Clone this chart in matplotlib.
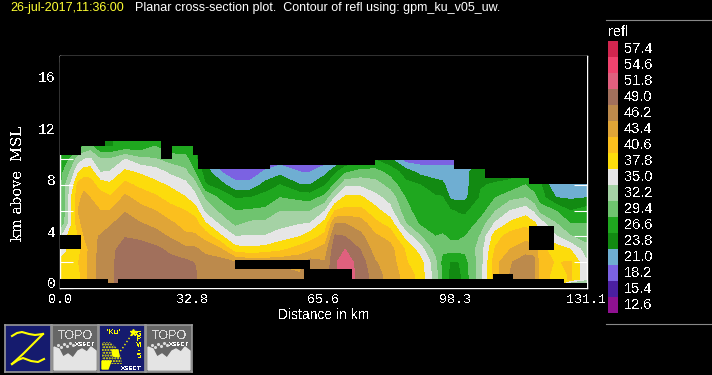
import matplotlib
matplotlib.use("Agg")
import matplotlib.pyplot as plt
import numpy as np
from matplotlib.colors import BoundaryNorm, ListedColormap
from matplotlib.patches import Rectangle, Polygon
from matplotlib.transforms import ScaledTranslation

plt.rcParams['font.family'] = ['Liberation Sans', 'DejaVu Sans']
plt.rcParams['text.antialiased'] = False

W, H = 712, 375

band_labels = [12.6, 15.4, 18.2, 21.0, 23.8, 26.6, 29.4, 32.2, 35.0, 37.8,
               40.6, 43.4, 46.2, 49.0, 51.8, 54.6, 57.4]
band_colors = ['#8f1191', '#4b1fa0', '#7b62e2', '#6faed2', '#128a12', '#1fa71f',
               '#6fc46f', '#a5d2a5', '#e6e6e6', '#fcdc0c', '#fbbf1e', '#e0a537',
               '#bc8a4c', '#a1705c', '#e0607e', '#f0436e', '#d1264f']

# distance (km) of each column of readings
dist_km = [0, 1.5, 3, 4.5, 6, 7.5, 10, 12.5, 16.2, 19.9, 23.7, 27.4, 31.2, 33.6,
           36.1, 39.9, 43.6, 47.4, 51.1, 54.8, 59.8, 62.3, 66, 68.5, 71, 74.8,
           78.5, 82.2, 86, 89.7, 93.5, 95.2, 97.2, 99, 100.9, 104.7, 108.4, 112.1,
           115.9, 118, 119.6, 123.4, 127.1, 131.1]
# heights (km) of the readings in each column
height_km = [1, 2, 3, 4, 5, 6, 7, 8, 9, 10, 11]
# reflectivity per column, bottom to top
refl = [
    [38, 37, 35, 33, 28, 27, 27, 27, 27, 26, 25],
    [38, 38, 36, 36, 32, 31, 31, 31, 29, 27, 25],
    [38, 38, 38, 38, 36.5, 36.5, 37, 35, 32, 29, 25],
    [38, 39, 38.5, 39, 41, 42, 41, 40, 36, 32, 27],
    [41, 41, 40, 42, 43, 44, 43, 41, 38, 33.5, 28],
    [43, 43, 43, 44, 43.5, 43, 42, 40.5, 38, 34, 29],
    [46, 46, 45.5, 45, 43, 42, 40.5, 38, 33.5, 31, 25],
    [47, 47, 47, 46, 44.5, 42, 39.6, 37, 33.8, 31, 25],
    [49, 49, 48.5, 47.5, 46, 44.6, 42.6, 40, 37, 33.6, 26],
    [49.5, 49.5, 49, 47, 45, 43, 41, 38.5, 36, 31.5, 26],
    [49.5, 49, 48.3, 46, 44, 42, 39.8, 37.2, 35, 31, 28],
    [49, 48.5, 47, 44.5, 42.5, 40.5, 38, 36, 33, 29.5, 26],
    [48.5, 48.2, 45.5, 42.5, 41, 39.2, 36.6, 34.5, 31.5, 29, 26],
    [48, 47.5, 45.3, 42.5, 40.5, 38, 34.5, 32, 28, 26, 25],
    [46, 46, 44, 41, 36.8, 33, 30.5, 25.5, 24, 22, 20],
    [46, 46, 42.5, 37, 33, 30, 27.5, 23.6, 19.7, 18, 17],
    [46, 45, 37.5, 33.6, 30, 28, 25.1, 20.4, 18, 17, 17],
    [46, 44, 37, 33.8, 31.4, 28.3, 25.2, 20.5, 18, 17, 17],
    [46, 44, 37.5, 33.8, 31.5, 28.5, 26.5, 23.4, 20, 17.5, 17],
    [46, 44, 38.5, 35, 32.5, 30.7, 28, 25.2, 21.5, 18, 17],
    [45, 44, 40.5, 36.4, 33.4, 30.5, 27.2, 22.4, 19.6, 18, 17],
    [46, 46, 41.3, 38, 33.7, 30.7, 26.8, 22.4, 19.6, 18, 17],
    [46, 45, 43.4, 40, 37.5, 33.5, 29, 25, 21.5, 18, 17],
    [50, 50, 49.5, 48, 44.7, 39.2, 34, 28.5, 24.5, 19, 17],
    [52, 52, 50.4, 47.6, 44.8, 40, 37, 33, 27.5, 22, 18],
    [49.5, 49, 47.5, 45.5, 43.5, 40, 37, 33, 29, 24, 20],
    [46, 45, 43.5, 42.5, 40, 37.5, 34.5, 32, 29, 25, 20],
    [43.5, 43.5, 43, 41, 38, 34.5, 32.5, 29.7, 27, 23, 20],
    [41, 39.5, 39, 35.5, 31, 29, 28, 26, 24, 18, 17],
    [38, 37.5, 35, 31, 27.5, 26.5, 25.5, 25.2, 21.5, 18, 17],
    [32, 31.5, 29.5, 28, 26, 26, 25.6, 23.5, 21, 18, 17],
    [27.5, 27, 28.5, 28.5, 26, 26, 25.5, 23, 21, 18, 17],
    [24.5, 25, 29, 27.5, 26, 25.5, 22, 21, 21, 18, 17],
    [24, 24.8, 29, 27.5, 26, 25, 21.5, 21, 21, 18, 17],
    [26.5, 27, 28.5, 28, 26, 24.8, 21.8, 21.5, 21.5, 19, 17],
    [32.5, 32, 32, 31, 29, 26.5, 25.5, 25, 25, 22, 20],
    [41, 41, 39.5, 38, 34, 30.6, 28, 25.5, 24, 22, 20],
    [44.9, 44.5, 42, 40.5, 37, 33.6, 30, 26, 24, 22, 20],
    [47, 46.5, 43.5, 41, 38.5, 35, 30.8, 28, 26, 24, 22],
    [45.5, 45.5, 44, 40, 37, 33, 29, 26.5, 25, 23, 21],
    [41, 40.5, 40, 37, 35, 29.5, 26.5, 25.5, 24, 22, 20],
    [38, 39, 38, 34, 31, 28, 22.5, 19.7, 18, 17, 17],
    [39.5, 39.5, 36.4, 31, 28, 25.2, 22, 20, 18, 17, 17],
    [34, 34, 32, 29.5, 28, 26.5, 22.4, 21, 18, 17, 17],
]
# readings just above ground, only seen where the floor dips
low_refl_last_columns = [29, 29]

# top of the echo: step edges (km) and the height (km) between them
top_edges_km = [0, 5.2, 11.2, 25.2, 27.9, 33.1, 34.4, 52.3, 78.5, 98, 105.9, 116.7, 131.1]
top_heights_km = [10.3, 11, 11.4, 10, 11, 10.3, 9.2, 9.55, 9.95, 9.2, 8.5, 8.1]
# lowest data: step edges (km) and height (km)
floor_edges_km = [0, 12, 14.5, 125.5, 131.1]
floor_heights_km = [0.7, 0.4, 0.7, 0.4]
# holes with no data: x0, x1, z0, z1 in km
gaps_km = [(0, 5.2, 3, 4.1), (43.6, 62.3, 1.5, 2.2), (60.8, 72.8, 0.7, 1.5),
           (107.9, 112.7, 0.7, 1.1), (116.7, 122.9, 2.95, 4.8)]

x_ticks = [0, 16.4, 32.8, 49.2, 65.6, 82.0, 98.3, 114.7, 131.1]
x_labels = ['0.0', '', '32.8', '', '65.6', '', '98.3', '', '131.1']
y_ticks = [0, 2, 4, 6, 8, 10, 12, 14, 16]
y_labels = ['0', '', '4', '', '8', '', '12', '', '16']


def px_axes(fig, x0, y0, x1, y1, **kw):
    return fig.add_axes([x0 / W, 1 - y1 / H, (x1 - x0) / W, (y1 - y0) / H], **kw)


def icon_frame(fig, x0, face):
    ax = px_axes(fig, x0, 325, x0 + 46, 372)
    ax.set_xlim(0, 46)
    ax.set_ylim(47, 0)
    ax.set_xticks([])
    ax.set_yticks([])
    ax.set_facecolor(face)
    for s in ax.spines.values():
        s.set_color('#999999')
        s.set_linewidth(1.2)
    return ax


def topo_icon(fig, x0):
    ax = icon_frame(fig, x0, '#666666')
    ax.text(23, 11, 'TOPO', color='#dddddd', fontsize=9, ha='center', va='center')
    ax.text(33, 19, 'XSECT', color='#ffffff', fontsize=4.5, ha='center', va='center')
    ridge = [(2, 45), (2, 22), (7, 24), (11, 32), (16, 29), (21, 33), (26, 26), (30, 24),
             (35, 27), (39, 22), (44, 26), (44, 45)]
    ax.add_patch(Polygon(ridge, color='#e4e4e4'))
    ax.scatter([6, 9, 12, 15, 18, 21], [20, 22, 19, 21, 18, 20], s=1.5, color='#dddddd')


def z_icon(fig, x0):
    ax = icon_frame(fig, x0, '#151b6e')
    ax.plot([7, 12, 17, 24, 30, 38], [11, 8, 7, 9, 10, 9], color='#ffff00', lw=1.5)
    ax.plot([38, 28, 18, 7], [9, 19, 29, 39], color='#ffff00', lw=1.5)
    ax.plot([7, 13, 18, 26, 33, 39], [39, 35, 33, 36, 37, 34], color='#ffff00', lw=1.5)


def ku_icon(fig, x0):
    ax = icon_frame(fig, x0, '#151b6e')
    ax.text(14, 8, "*Ku'", color='#ffff00', fontsize=6, ha='center', va='center')
    for i, c in enumerate('GPM-5'):
        ax.text(40, 9 + i * 5.6, c, color='#ffff00', fontsize=5.5, ha='center', va='center',
                fontweight='bold')
    ax.text(32, 43, 'XSECT', color='#ffffff', fontsize=4.5, ha='center', va='center',
            fontweight='bold')
    ax.add_patch(Polygon([(3, 17), (11, 17), (18, 23), (22, 32), (23, 39), (3, 39)],
                         facecolor='#151b6e', edgecolor='#ffff00', hatch='......', lw=0))
    ax.add_patch(Polygon([(13, 25), (19, 25), (20, 32), (14, 31)], color='#ffff00'))
    ax.add_patch(Polygon([(3, 36), (12, 36), (9, 44), (3, 44)], color='#ffff00'))
    ax.plot([19, 23, 27, 31, 34], [29, 24, 18, 12, 7], ':', color='#ffff00', lw=1)
    ax.plot([34], [7], marker='*', color='#ffff00', ms=5)


fig = plt.figure(figsize=(W / 100, H / 100), dpi=100, facecolor='black')
ax = px_axes(fig, 60, 56, 586.5, 288)
ax.set_facecolor('black')

# levels sit half a band either side of each colour bar label
levels = [v - 1.4 for v in band_labels] + [band_labels[-1] + 1.4]
cmap = ListedColormap(band_colors)
norm = BoundaryNorm(levels, cmap.N)

grid = np.array(refl).T
low = grid[0].copy()
low[-2:] = low_refl_last_columns
grid = np.vstack([low, grid[0], grid, grid[-1]])
heights = [0.3, 0.69] + height_km + [12]
ax.contourf(dist_km, heights, grid, levels=levels, cmap=cmap, norm=norm, antialiased=False)

top_y = np.r_[top_heights_km, top_heights_km[-1]]
ax.fill_between(top_edges_km, top_y, 18, step='post', color='black', lw=0, zorder=3)
floor_y = np.r_[floor_heights_km, floor_heights_km[-1]]
ax.fill_between(floor_edges_km, 0, floor_y, step='post', color='black', lw=0, zorder=3)
for x0, x1, z0, z1 in gaps_km:
    ax.add_patch(Rectangle((x0, z0), x1 - x0, z1 - z0, color='black', lw=0, zorder=3))

ax.set_xlim(0, 131.1)
ax.set_ylim(0, 18)
ax.set_xticks(x_ticks, x_labels, family='Liberation Mono', fontsize=9.5)
ax.set_yticks(y_ticks, y_labels, family='Liberation Mono', fontsize=10.5)
ax.tick_params(axis='x', direction='in', length=4.5, width=0.8, color='white', labelcolor='white',
               top=True, pad=4)
ax.tick_params(axis='y', direction='in', length=9.5, width=0.8, color='white', labelcolor='white',
               right=True, pad=3)
up = ScaledTranslation(0, 5 / 100, fig.dpi_scale_trans)
for lab in ax.get_yticklabels():
    lab.set_transform(lab.get_transform() + up)
for s in ax.spines.values():
    s.set_color('white')
    s.set_linewidth(1)

fig.text(324 / W, 1 - 315 / H, 'Distance in km', color='white', fontsize=10, ha='center', va='center')
fig.text(18 / W, 1 - 184 / H, 'km above  MSL', color='white', fontsize=10.5, rotation=90, ha='center',
         va='center', family='DejaVu Serif')
fig.text(10 / W, 1 - 8 / H, '26-jul-2017,11:36:00', color='#ffff33', fontsize=9, va='center',
         antialiased=True)
fig.text(135 / W, 1 - 8 / H, 'Planar cross-section plot.  Contour of refl using: gpm_ku_v05_uw.',
         color='white', fontsize=9, va='center', antialiased=True)

# colour bar
cb = px_axes(fig, 608, 41, 618, 313)
cb.imshow(np.arange(len(band_labels))[::-1].reshape(-1, 1), cmap=cmap, aspect='auto',
          interpolation='nearest')
cb.axis('off')
for i, v in enumerate(band_labels):
    fig.text(624 / W, 1 - (305 - 16 * i) / H, f'{v:.1f}', color='white', fontsize=10.5, va='center')
fig.text(608 / W, 1 - 32 / H, 'refl', color='white', fontsize=10.5, va='center')
for y in (19.5, 324):
    fig.add_artist(plt.Line2D([606 / W, 1], [1 - y / H, 1 - y / H], color='#888888', lw=0.8))

z_icon(fig, 5)
topo_icon(fig, 52)
ku_icon(fig, 99)
topo_icon(fig, 146)

fig.savefig('out.png', dpi=100, facecolor='black')
